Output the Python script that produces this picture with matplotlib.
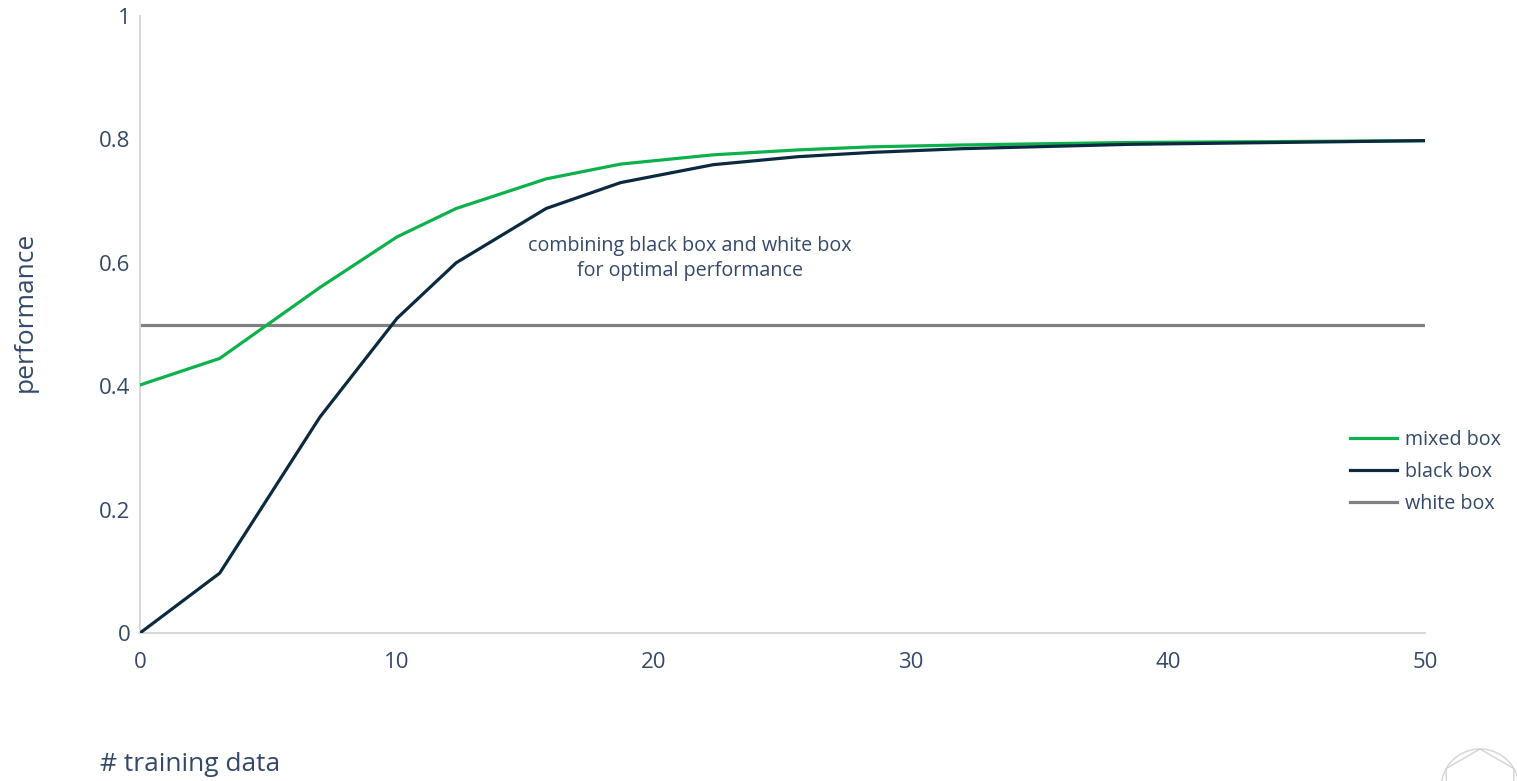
import numpy as np
import matplotlib
matplotlib.use("Agg")
import matplotlib.pyplot as plt
import matplotlib.patches as patches

plt.rcParams['font.family'] = ['Open Sans', 'DejaVu Sans']

# training set size vs. performance
training_data = [0, 3.1, 7, 10, 12.3, 15.8, 18.7, 22.3, 25.6, 28.5, 32, 38.5, 50]
mixed_box = [0.402, 0.445, 0.56, 0.642, 0.688, 0.736, 0.76, 0.775, 0.783, 0.788, 0.791, 0.795, 0.798]
black_box = [0.0, 0.097, 0.35, 0.51, 0.60, 0.688, 0.73, 0.759, 0.772, 0.779, 0.785, 0.792, 0.798]
white_box = [0.5] * len(training_data)

x_ticks = [0, 10, 20, 30, 40, 50]
y_ticks = [0, 0.2, 0.4, 0.6, 0.8, 1]
y_tick_labels = ['0', '0.2', '0.4', '0.6', '0.8', '1']

text_col = '#34496a'
green = '#0db14b'
navy = '#0b2a40'
grey = '#808080'

fig = plt.figure(figsize=(15.17, 7.81), dpi=100)
ax = fig.add_axes([0.0923, 0.1895, 0.8471, 0.79])

ax.plot(training_data, mixed_box, color=green, lw=2.3, label='mixed box', zorder=3)
ax.plot(training_data, black_box, color=navy, lw=2.3, label='black box', zorder=4)
ax.plot(training_data, white_box, color=grey, lw=2.3, label='white box', zorder=2)

ax.set_xlim(0, 50)
ax.set_ylim(0, 1)
ax.set_xticks(x_ticks)
ax.set_yticks(y_ticks)
ax.set_yticklabels(y_tick_labels)
ax.tick_params(length=0, labelsize=16, labelcolor=text_col)
ax.tick_params(axis='y', pad=7)
ax.tick_params(axis='x', pad=14)
for side in ['top', 'right']:
    ax.spines[side].set_visible(False)
for side in ['left', 'bottom']:
    ax.spines[side].set_color('#d9d9d9')
    ax.spines[side].set_linewidth(1.5)

ax.text(21.4, 0.607, 'combining black box and white box\nfor optimal performance',
        ha='center', va='center', fontsize=14.2, color=text_col, linespacing=1.35)

leg = ax.legend(loc='center left', bbox_to_anchor=(0.9276, 0.261), frameon=False,
                fontsize=14.2, handlelength=2.4, handletextpad=0.4, labelspacing=0.6)
for t in leg.get_texts():
    t.set_color(text_col)

fig.text(0.0165, 0.6005, 'performance', rotation=90, ha='center', va='center',
         fontsize=19, color=text_col)
fig.text(0.066, 0.0205, '# training data', ha='left', va='center',
         fontsize=19, color=text_col)

# faint logo mark in the lower right corner
deco = fig.add_axes([0, 0, 1, 1], zorder=-1)
deco.set_xlim(0, 1517)
deco.set_ylim(781, 0)
deco.axis('off')
cx, cy, r = 1480, 788, 39
deco.add_patch(patches.Circle((cx, cy), r, fill=False, edgecolor='#d4d4d4', lw=1))
ang = np.deg2rad(np.arange(90, 450, 60))
deco.add_patch(patches.Polygon(np.column_stack([cx + r * np.cos(ang), cy - r * np.sin(ang)]),
                               closed=True, fill=False, edgecolor='#d4d4d4', lw=1))

fig.savefig('out.png', dpi=100, facecolor='white')
